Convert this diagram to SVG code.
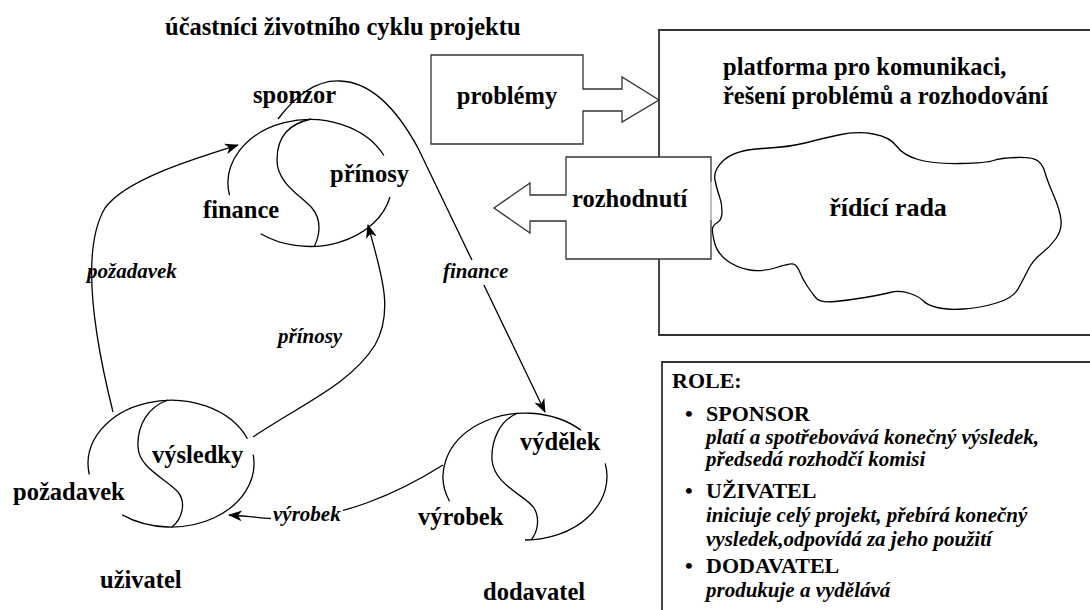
<svg xmlns="http://www.w3.org/2000/svg" width="1090" height="610" viewBox="0 0 1090 610">
  <style>
    .b { font-family: "Liberation Serif", "Times New Roman", serif; font-weight: bold; font-size: 24.5px; fill: #000; }
    .i { font-family: "Liberation Serif", "Times New Roman", serif; font-weight: bold; font-style: italic; font-size: 21px; fill: #000; }
    .h { font-family: "Liberation Serif", "Times New Roman", serif; font-weight: bold; font-size: 22px; fill: #000; }
    .ln { fill: none; stroke: #000; stroke-width: 1.3; }
    .frame { fill: none; stroke: #333; stroke-width: 1.8; }
    .blk { fill: #fff; stroke: #333; stroke-width: 1.3; stroke-linejoin: miter; }
    .cloud { fill: #fff; stroke: #000; stroke-width: 1.3; }
  </style>
  <defs>
    <marker id="head" viewBox="0 0 14 11" refX="13" refY="5.5" markerWidth="14" markerHeight="11" markerUnits="userSpaceOnUse" orient="auto">
      <path d="M0,0 L14,5.5 L0,11 L4,5.5 z" fill="#000"/>
    </marker>
  </defs>

  <rect width="1090" height="610" fill="#fff"/>

  <g id="title">
    <text class="b" x="165" y="35">účastníci životního cyklu projektu</text>
  </g>

  <!-- communication platform frame -->
  <g id="platforma">
    <path class="frame" d="M1092,30 H659 V335 H1092"/>
    <text class="b" x="723" y="75">platforma pro komunikaci,</text>
    <text class="b" x="723" y="104">řešení problémů a rozhodování</text>
  </g>

  <!-- block arrow: problems into the platform -->
  <g id="problemy">
    <polygon class="blk" points="431,55 583,55 583,89 622,89 622,77 659,100 622,122 622,111 583,111 583,144 431,144"/>
    <text class="b" x="507" y="104" text-anchor="middle">problémy</text>
  </g>

  <!-- block arrow: decisions out of the platform -->
  <g id="rozhodnuti">
    <polygon class="blk" points="566,157 711,157 711,259 566,259 566,221 530,221 530,233 494,208 530,183 530,195 566,195"/>
    <line x1="711" y1="182" x2="711" y2="220" stroke="#d8d8d8" stroke-width="1.5"/>
    <text class="b" x="572" y="207">rozhodnutí</text>
  </g>

  <!-- steering board -->
  <g id="ridici-rada">
    <path class="cloud" d="M715,180 Q713,170 724,160 Q735,150 762.5,148.5 Q790,147 805,143 Q820,139 838.5,135 Q857,131 873.5,134 Q890,137 896.5,146 Q903,155 918,159.5 Q933,164 960,163.5 Q987,163 993.5,160.5 Q1000,158 1016.5,157.5 Q1033,157 1038,161 Q1043,165 1045,172.5 Q1047,180 1053.5,195 Q1060,210 1061,220 Q1062,230 1056,238.5 Q1050,247 1041.5,253.5 Q1033,260 1028,270 Q1023,280 1018,289 Q1013,298 996.5,303 Q980,308 963.5,309 Q947,310 937,307.5 Q927,305 923.5,301 Q920,297 910,293.5 Q900,290 890,292.5 Q880,295 865,297.5 Q850,300 835,301.5 Q820,303 816,298 Q812,293 807.5,286.5 Q803,280 800,272.5 Q797,265 793.5,264 Q790,263 776.5,267.5 Q763,272 750,270 Q737,268 727,260.5 Q717,253 714.5,242.5 Q712,232 712.5,228.5 Q713,225 717.5,222.5 Q722,220 722,211.5 Q722,203 719.5,196.5 Q717,190 715,180 Z"/>
    <text class="b" x="888" y="216" text-anchor="middle" style="font-size:26px">řídící rada</text>
  </g>

  <!-- sponsor -->
  <g id="sponzor">
    <path class="ln" d="M229.5,195.1 A82,63.5 0 0 1 383.9,155.5"/>
    <path class="ln" d="M390,197 A82,63.5 0 0 1 260.7,233.7"/>
    <path class="ln" d="M311,119 C290,124 277,135 277,160 C277,183 300,195 312,208 C322,220 320,235 314,247"/>
    <text class="b" x="253" y="103">sponzor</text>
    <text class="b" x="330" y="182">přínosy</text>
    <text class="b" x="203" y="218">finance</text>
  </g>

  <!-- user -->
  <g id="uzivatel">
    <path class="ln" d="M89.3,474.5 A83,63.5 0 0 1 247.4,438.7"/>
    <path class="ln" d="M253.2,454.7 A83,63.5 0 0 1 122.2,514.9"/>
    <path class="ln" d="M168,400 C148,407 137,425 138,447 C139,468 165,478 178,492 C186,502 183,518 172,527"/>
    <text class="b" x="152" y="463">výsledky</text>
    <text class="b" x="13" y="500">požadavek</text>
    <text class="b" x="100" y="588">uživatel</text>
  </g>

  <!-- supplier -->
  <g id="dodavatel">
    <path class="ln" d="M449.5,501.3 A82,63.5 0 0 1 580.9,430.1"/>
    <path class="ln" d="M605.2,463.3 A82,63.5 0 0 1 525,540"/>
    <path class="ln" d="M518,413 C500,420 491,440 492,460 C494,485 525,495 534,508 C540,518 538,532 531,540"/>
    <text class="b" x="520" y="450">výdělek</text>
    <text class="b" x="418" y="525">výrobek</text>
    <text class="b" x="483" y="600">dodavatel</text>
  </g>

  <!-- flows between the participants -->
  <g id="connectors">
    <path class="ln" marker-end="url(#head)" d="M113,412 C95,340 80,250 105,208 C125,180 190,160 238,145"/>
    <path class="ln" marker-end="url(#head)" d="M253,437 C300,405 350,385 375,345 C395,310 380,270 368,225"/>
    <path class="ln" marker-end="url(#head)" d="M278,119 C300,90 320,80 340,81 C375,82 400,115 418,148 L545,412"/>
    <path class="ln" marker-end="url(#head)" d="M443,465 C400,492 340,520 280,519 C260,518 245,516 229,515"/>

    <text class="i" x="87" y="278">požadavek</text>
    <text class="i" x="278" y="343">přínosy</text>
    <rect x="440" y="260" width="72" height="25" fill="#fff"/>
    <text class="i" x="443" y="278">finance</text>
    <rect x="271" y="503" width="72" height="24" fill="#fff"/>
    <text class="i" x="273" y="521">výrobek</text>
  </g>

  <!-- roles legend -->
  <g id="role">
    <path class="frame" d="M1092,362 H662 V612"/>
    <text class="h" x="672" y="388">ROLE:</text>
    <text class="h" x="685" y="421">•</text>
    <text class="h" x="706" y="421">SPONSOR</text>
    <text class="i" x="706" y="444">platí a spotřebovává konečný výsledek,</text>
    <text class="i" x="706" y="466">předsedá rozhodčí komisi</text>
    <text class="h" x="685" y="498">•</text>
    <text class="h" x="706" y="498">UŽIVATEL</text>
    <text class="i" x="706" y="522">iniciuje celý projekt, přebírá konečný</text>
    <text class="i" x="706" y="546">vysledek,odpovídá za jeho použití</text>
    <text class="h" x="685" y="573">•</text>
    <text class="h" x="706" y="573">DODAVATEL</text>
    <text class="i" x="706" y="597">produkuje a vydělává</text>
  </g>
</svg>
